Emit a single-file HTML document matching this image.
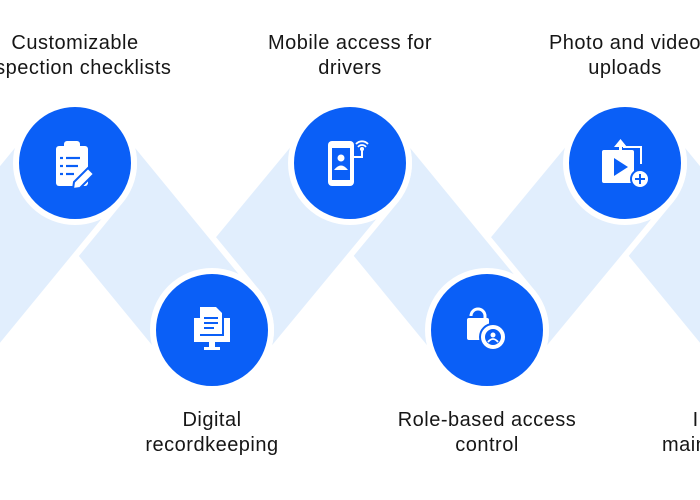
<!DOCTYPE html>
<html><head><style>
html,body{margin:0;padding:0;background:#fff;width:700px;height:500px;overflow:hidden}
svg{display:block}
text{font-family:"Liberation Sans",sans-serif;font-size:20px;letter-spacing:0.5px;fill:#161616;text-anchor:middle}
</style></head><body>
<svg width="700" height="500" viewBox="0 0 700 500">
<g stroke-linecap="round" fill="none">
  <line x1="625" y1="163" x2="762" y2="330" stroke="#fff" stroke-width="124"/>
  <line x1="625" y1="163" x2="762" y2="330" stroke="#e1eefd" stroke-width="112"/>
  <line x1="487" y1="330" x2="625" y2="163" stroke="#fff" stroke-width="124"/>
  <line x1="487" y1="330" x2="625" y2="163" stroke="#e1eefd" stroke-width="112"/>
  <line x1="350" y1="163" x2="487" y2="330" stroke="#fff" stroke-width="124"/>
  <line x1="350" y1="163" x2="487" y2="330" stroke="#e1eefd" stroke-width="112"/>
  <line x1="212" y1="330" x2="350" y2="163" stroke="#fff" stroke-width="124"/>
  <line x1="212" y1="330" x2="350" y2="163" stroke="#e1eefd" stroke-width="112"/>
  <line x1="75" y1="163" x2="212" y2="330" stroke="#fff" stroke-width="124"/>
  <line x1="75" y1="163" x2="212" y2="330" stroke="#e1eefd" stroke-width="112"/>
  <line x1="-62" y1="330" x2="75" y2="163" stroke="#fff" stroke-width="124"/>
  <line x1="-62" y1="330" x2="75" y2="163" stroke="#e1eefd" stroke-width="112"/>
</g>
<g fill="#0a5ff7" stroke="#fff" stroke-width="6">
  <circle cx="75" cy="163" r="59"/>
  <circle cx="212" cy="330" r="59"/>
  <circle cx="350" cy="163" r="59"/>
  <circle cx="487" cy="330" r="59"/>
  <circle cx="625" cy="163" r="59"/>
</g>
<g fill="#fff">
  <rect x="56" y="146" width="32" height="40" rx="3"/>
  <rect x="64" y="141" width="16" height="8" rx="3"/>
  <g stroke="#0a5ff7" stroke-width="2.2">
    <line x1="66" y1="158" x2="80" y2="158"/><line x1="66" y1="166" x2="78" y2="166"/><line x1="66" y1="174" x2="74" y2="174"/>
    <line x1="60" y1="158" x2="63" y2="158"/><line x1="60" y1="166" x2="63" y2="166"/><line x1="60" y1="174" x2="63" y2="174"/>
  </g>
  <polygon points="88,168 94,174 80,188 73,189 74,182" stroke="#0a5ff7" stroke-width="2"/>
  <rect x="328" y="141" width="26" height="45" rx="4"/>
  <rect x="332" y="148" width="18" height="32" fill="#0a5ff7"/>
  <circle cx="341" cy="158" r="3.5"/>
  <path d="M334 170 q7-9 14 0 z"/>
  <path d="M350 157 h12 v-8" stroke="#fff" stroke-width="2" fill="none"/>
  <circle cx="362" cy="149" r="2"/>
  <path d="M356 144 a8 8 0 0 1 12 0 M358 147 a5 5 0 0 1 8 0" stroke="#fff" stroke-width="1.8" fill="none"/>
  <rect x="602" y="150" width="32" height="33" rx="2"/>
  <polygon points="614,158 614,176 628,167" fill="#0a5ff7"/>
  <rect x="619" y="143" width="3" height="12"/>
  <polygon points="614,147 620.5,139 627,147"/>
  <path d="M623 147 h18 v17" stroke="#fff" stroke-width="2" fill="none"/>
  <circle cx="640" cy="179" r="9" stroke="#0a5ff7" stroke-width="2"/>
  <path d="M640 174 v10 M635 179 h10" stroke="#0a5ff7" stroke-width="2"/>
  <path d="M194 318 h6 v18 h24 v-18 h6 v24 h-36 z"/>
  <path d="M200 307 h16 l6 6 v21 h-22 z"/>
  <g stroke="#0a5ff7" stroke-width="2"><line x1="204" y1="318" x2="218" y2="318"/><line x1="204" y1="323" x2="218" y2="323"/><line x1="204" y1="328" x2="214" y2="328"/></g>
  <rect x="209" y="342" width="6" height="6"/><rect x="204" y="347" width="16" height="3"/>
  <path d="M471 316 a7 7 0 0 1 14 0 v4" stroke="#fff" stroke-width="3" fill="none"/>
  <rect x="467" y="318" width="22" height="22" rx="2"/>
  <circle cx="493" cy="337" r="13" stroke="#0a5ff7" stroke-width="2"/>
  <circle cx="493" cy="337" r="8" fill="#0a5ff7"/>
  <circle cx="493" cy="335" r="2.5"/>
  <path d="M488 342 q5-6 10 0" stroke="#fff" stroke-width="1.8" fill="none"/>
</g>
<text x="75" y="49">Customizable</text>
<text x="75" y="74">inspection checklists</text>
<text x="350" y="49">Mobile access for</text>
<text x="350" y="74">drivers</text>
<text x="625" y="49">Photo and video</text>
<text x="625" y="74">uploads</text>
<text x="212" y="426">Digital</text>
<text x="212" y="451">recordkeeping</text>
<text x="487" y="426">Role-based access</text>
<text x="487" y="451">control</text>
<text x="762" y="426">Integrated with</text>
<text x="762" y="451">maintenance tracking</text>
</svg>
</body></html>
